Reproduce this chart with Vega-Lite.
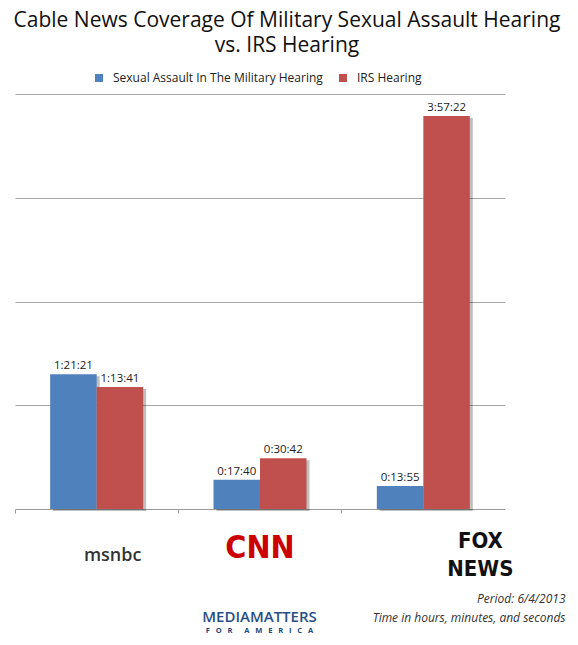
{
  "$schema": "https://vega.github.io/schema/vega-lite/v6.json",
  "autosize": {"type": "none"},
  "width": 490,
  "height": 415,
  "padding": {"left": 15, "top": 94, "right": 73, "bottom": 136},
  "background": "white",
  "title": {
    "text": ["Cable News Coverage Of Military Sexual Assault Hearing", "vs. IRS Hearing"],
    "font": "Open Sans",
    "fontSize": 21,
    "fontWeight": "normal",
    "color": "#111111",
    "lineHeight": 25,
    "anchor": "middle",
    "frame": "group",
    "dx": 27,
    "offset": 16
  },
  "data": {
    "values": [
      {"network": "msnbc", "hearing": "Sexual Assault In The Military Hearing", "seconds": 4881, "label": "1:21:21"},
      {"network": "msnbc", "hearing": "IRS Hearing", "seconds": 4421, "label": "1:13:41"},
      {"network": "CNN", "hearing": "Sexual Assault In The Military Hearing", "seconds": 1060, "label": "0:17:40"},
      {"network": "CNN", "hearing": "IRS Hearing", "seconds": 1842, "label": "0:30:42"},
      {"network": "FOX NEWS", "hearing": "Sexual Assault In The Military Hearing", "seconds": 835, "label": "0:13:55"},
      {"network": "FOX NEWS", "hearing": "IRS Hearing", "seconds": 14242, "label": "3:57:22"}
    ]
  },
  "layer": [
    {
      "mark": {"type": "bar", "fill": "#000000", "opacity": 0.25, "yOffset": 2, "y2Offset": 2},
      "encoding": {
        "x": {
          "field": "network",
          "type": "nominal",
          "sort": ["msnbc", "CNN", "FOX NEWS"],
          "scale": {"paddingInner": 0, "paddingOuter": 0},
          "axis": {
            "orient": "bottom",
            "labels": false,
            "ticks": false,
            "domain": false,
            "grid": false,
            "title": "F\u00a0\u00a0\u00a0O\u00a0\u00a0\u00a0R\u00a0\u00a0\u00a0\u00a0\u00a0\u00a0A\u00a0\u00a0\u00a0M\u00a0\u00a0\u00a0E\u00a0\u00a0\u00a0R\u00a0\u00a0\u00a0I\u00a0\u00a0\u00a0C\u00a0\u00a0\u00a0A",
            "titleFont": "Open Sans",
            "titleFontSize": 7.5,
            "titleFontWeight": "bold",
            "titleColor": "#23477c",
            "titleX": 244,
            "titleY": 123,
            "titleAlign": "center",
            "titleBaseline": "alphabetic",
            "titleAngle": 0
          }
        },
        "xOffset": {
          "field": "hearing",
          "sort": ["Sexual Assault In The Military Hearing", "IRS Hearing"],
          "scale": {"paddingInner": 0, "paddingOuter": 0.756, "range": [3, 166.3]}
        },
        "y": {"field": "seconds", "type": "quantitative", "scale": {"domain": [0, 15040], "nice": false}}
      }
    },
    {
      "mark": {"type": "bar"},
      "encoding": {
        "x": {
          "field": "network",
          "type": "nominal",
          "sort": ["msnbc", "CNN", "FOX NEWS"],
          "scale": {"paddingInner": 0, "paddingOuter": 0},
          "axis": {
            "orient": "bottom",
            "bandPosition": 0,
            "domain": true,
            "domainColor": "#9a9a9a",
            "ticks": true,
            "tickColor": "#9a9a9a",
            "tickSize": 4,
            "grid": false,
            "labelAngle": 0,
            "labelAlign": "center",
            "labelBaseline": "middle",
            "labelExpr": "datum.value == 'FOX NEWS' ? ['FOX', 'NEWS'] : datum.value",
            "labelFont": {"condition": {"test": "datum.value == 'msnbc'", "value": "Open Sans"}, "value": "'Liberation Sans Narrow', 'DejaVu Sans Condensed', 'Liberation Sans', sans-serif"},
            "labelFontSize": {"condition": [{"test": "datum.value == 'msnbc'", "value": 18}, {"test": "datum.value == 'CNN'", "value": 32}], "value": 22},
            "labelFontWeight": {"condition": {"test": "datum.value == 'msnbc'", "value": 600}, "value": "bold"},
            "labelColor": {"condition": [{"test": "datum.value == 'msnbc'", "value": "#333333"}, {"test": "datum.value == 'CNN'", "value": "#cc0000"}], "value": "#111111"},
            "labelOffset": {"condition": [{"test": "datum.value == 'msnbc'", "value": 16}, {"test": "datum.value == 'CNN'", "value": 0}], "value": 57},
            "labelPadding": {"condition": [{"test": "datum.value == 'msnbc'", "value": 42}, {"test": "datum.value == 'CNN'", "value": 34}], "value": 27},
            "labelLineHeight": 28,
            "labelLimit": 0,
            "title": ["Period: 6/4/2013", "Time in hours, minutes, and seconds"],
            "titleFont": "Open Sans",
            "titleFontSize": 12,
            "titleFontStyle": "italic",
            "titleFontWeight": "normal",
            "titleColor": "#333333",
            "titleX": 550,
            "titleY": 93,
            "titleAlign": "right",
            "titleBaseline": "alphabetic",
            "titleLineHeight": 19,
            "titleAngle": 0
          }
        },
        "xOffset": {
          "field": "hearing",
          "sort": ["Sexual Assault In The Military Hearing", "IRS Hearing"],
          "scale": {"paddingInner": 0, "paddingOuter": 0.756}
        },
        "y": {
          "field": "seconds",
          "type": "quantitative",
          "scale": {"domain": [0, 15040], "nice": false},
          "axis": {
            "labels": false,
            "ticks": false,
            "domain": false,
            "grid": true,
            "gridColor": "#a6a6a6",
            "values": [3760, 7520, 11280, 15040],
            "title": null
          }
        },
        "color": {
          "field": "hearing",
          "type": "nominal",
          "sort": ["Sexual Assault In The Military Hearing", "IRS Hearing"],
          "scale": {"domain": ["Sexual Assault In The Military Hearing", "IRS Hearing"], "range": ["#4f81bd", "#c0504d"]},
          "legend": {
            "orient": "none",
            "legendX": 78,
            "legendY": -22,
            "direction": "horizontal",
            "title": null,
            "symbolType": "square",
            "symbolSize": 64,
            "symbolStrokeWidth": 0,
            "labelFont": "Open Sans",
            "labelFontSize": 12,
            "labelColor": "#222222",
            "labelOffset": 8,
            "labelLimit": 0,
            "columnPadding": 14
          }
        }
      }
    },
    {
      "mark": {"type": "text", "font": "Open Sans", "fontSize": 11.5, "color": "#222222", "baseline": "alphabetic", "align": "center", "dy": -5},
      "encoding": {
        "x": {
          "field": "network",
          "type": "nominal",
          "sort": ["msnbc", "CNN", "FOX NEWS"],
          "scale": {"paddingInner": 0, "paddingOuter": 0},
          "axis": {
            "orient": "bottom",
            "labels": false,
            "ticks": false,
            "domain": false,
            "grid": false,
            "title": "MEDIAMATTERS",
            "titleFont": "Open Sans",
            "titleFontSize": 15,
            "titleFontWeight": 600,
            "titleColor": "#284e85",
            "titleX": 244,
            "titleY": 112,
            "titleAlign": "center",
            "titleBaseline": "alphabetic",
            "titleAngle": 0
          }
        },
        "xOffset": {
          "field": "hearing",
          "sort": ["Sexual Assault In The Military Hearing", "IRS Hearing"],
          "scale": {"type": "band", "paddingInner": 0, "paddingOuter": 0.756}
        },
        "y": {"field": "seconds", "type": "quantitative"},
        "text": {"field": "label", "type": "nominal"}
      }
    }
  ],
  "resolve": {"axis": {"x": "independent"}, "scale": {"xOffset": "independent"}},
  "config": {
    "view": {"stroke": null},
    "font": "Open Sans"
  }
}
